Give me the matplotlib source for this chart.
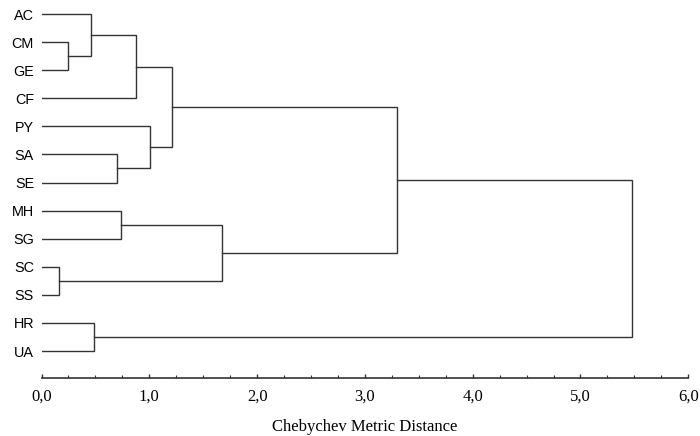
import matplotlib
matplotlib.use("Agg")
import matplotlib.pyplot as plt
from matplotlib.ticker import MultipleLocator, FuncFormatter

labels = ['AC', 'CM', 'GE', 'CF', 'PY', 'SA', 'SE', 'MH', 'SG', 'SC', 'SS', 'HR', 'UA']
# linkage: (child a, child b, merge distance); ids >= 13 refer to earlier merges
merge_a = [1, 9, 0, 11, 5, 7, 15, 4, 19, 18, 21, 23]
merge_b = [2, 10, 13, 12, 6, 8, 3, 17, 20, 14, 22, 16]
merge_h = [0.25, 0.16, 0.46, 0.49, 0.70, 0.74, 0.88, 1.01, 1.21, 1.67, 3.30, 5.48]
xticks = [0, 1, 2, 3, 4, 5, 6]
xlabel = 'Chebychev Metric Distance'

fig = plt.figure(figsize=(7.0, 4.36), dpi=100)
ax = fig.add_axes([41.5 / 700, 1 - 378 / 436, (688.3 - 41.5) / 700, 378 / 436])

n = len(labels)
pos = {i: (float(i), 0.0) for i in range(n)}
lc = '#333333'
for k, (a, b, h) in enumerate(zip(merge_a, merge_b, merge_h)):
    ya, ha = pos[a]
    yb, hb = pos[b]
    ax.plot([ha, h, h, hb], [ya, ya, yb, yb], color=lc, lw=1.0, solid_joinstyle='miter')
    pos[n + k] = ((ya + yb) / 2.0, h)

ax.set_xlim(0, 6)
ax.set_ylim(n - 1 + 0.96, -0.5)
ax.set_yticks(range(n))
ax.set_yticklabels(labels, fontfamily='Liberation Sans', fontsize=10.4)
ax.tick_params(axis='y', length=0, pad=5.4)

ax.set_xticks(xticks)
ax.xaxis.set_minor_locator(MultipleLocator(0.25))
ax.xaxis.set_major_formatter(FuncFormatter(lambda v, p: f'{v:.1f}'.replace('.', ',')))
ax.tick_params(axis='x', which='major', direction='in', length=3, width=1.0, color=lc, pad=8)
ax.tick_params(axis='x', which='minor', direction='in', length=2.5, width=0.8, color=lc)
for t in ax.get_xticklabels():
    t.set_fontfamily('Liberation Serif')
    t.set_fontsize(12)
ax.set_xlabel(xlabel, fontfamily='Liberation Serif', fontsize=12, labelpad=10)

for s in ['top', 'right', 'left']:
    ax.spines[s].set_visible(False)
ax.spines['bottom'].set_color(lc)
ax.spines['bottom'].set_linewidth(1.2)
ax.patch.set_visible(False)

fig.savefig('out.png', dpi=100)
